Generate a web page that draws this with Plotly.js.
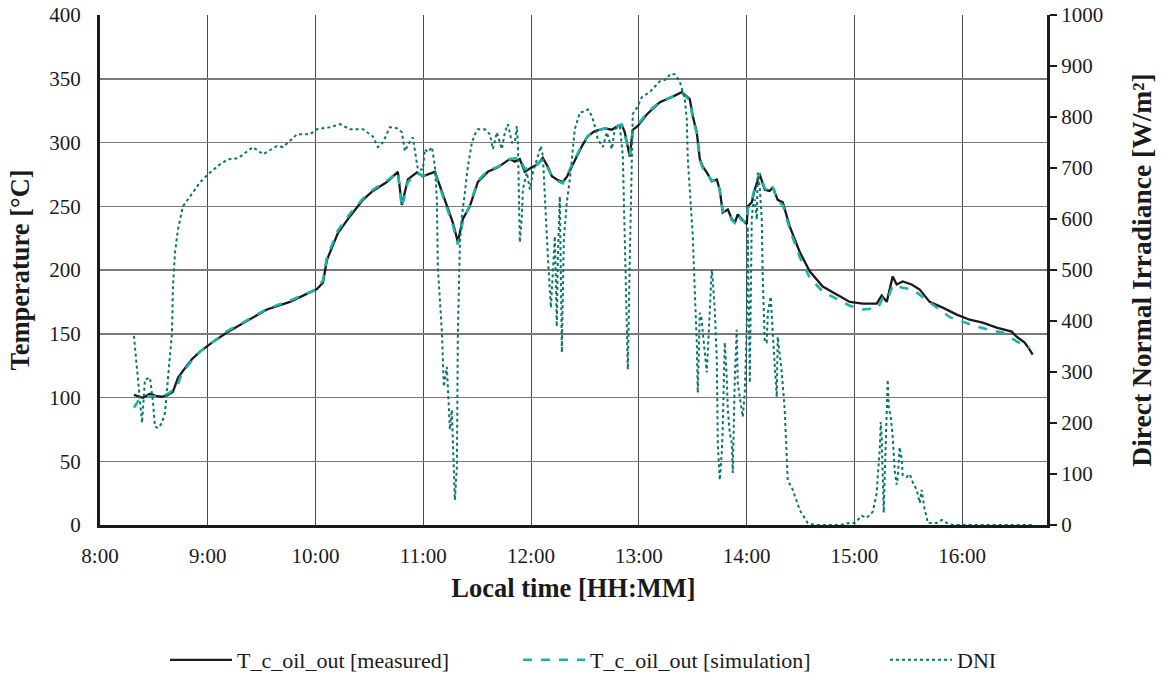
<!DOCTYPE html>
<html>
<head>
<meta charset="utf-8">
<script src="https://cdn.plot.ly/plotly-3.0.1.min.js"></script>
<style>html,body{margin:0;padding:0;background:#fff;}#chart{width:1162px;height:675px;}</style>
</head>
<body>
<div id="chart"></div>
<script>
// Local time in decimal hours
const tMeas = [8.315,8.371,8.399,8.464,8.529,8.575,8.631,8.677,8.724,8.788,8.853,8.928,9.039,9.178,9.299,9.438,9.549,9.763,10.013,10.069,10.106,10.208,10.319,10.440,10.532,10.662,10.764,10.801,10.857,10.941,10.996,11.108,11.154,11.219,11.275,11.321,11.367,11.432,11.506,11.599,11.692,11.803,11.850,11.896,11.942,12.007,12.063,12.109,12.156,12.193,12.239,12.295,12.332,12.378,12.425,12.471,12.527,12.592,12.685,12.750,12.805,12.842,12.870,12.916,12.944,12.991,13.074,13.195,13.315,13.399,13.473,13.501,13.538,13.566,13.594,13.631,13.677,13.724,13.751,13.779,13.826,13.863,13.891,13.918,13.955,14.002,14.011,14.048,14.076,14.122,14.169,14.215,14.243,14.289,14.336,14.401,14.494,14.586,14.707,14.837,14.958,15.078,15.208,15.254,15.301,15.356,15.393,15.449,15.532,15.607,15.699,15.820,15.950,16.071,16.191,16.321,16.460,16.506,16.581,16.627,16.655];
const tempMeasured = [102,100.6,99.8,103,101,100.6,102,104.5,115.5,123,130,136,143,151,157,164,169,175,185,190,208,229,242,255,262,269,277,251,271,276.6,273.5,277,266,250,237,222,240,250,269,277,280.5,287,285,287,277,280.5,283,288,281,273.5,271,269,273,281,289,297,305,309,311,310,313,314,308,289,310,313,322,331.6,336,339.5,334,320.6,308,287,281,276.6,269.5,271,263,245,247.5,240,237,243.6,240,236,250,253,263,275,263,262,265,255,253,234,214,199,187,181,175,173.6,173.6,180,175,195,188.6,191,188.6,184.7,175,170.5,165,161,158.7,154.8,151.7,147.7,143,137.5,133.6];

const tSim = [8.315,8.352,8.436,8.584,8.649,8.714,8.760,8.853,8.928,9.039,9.178,9.299,9.438,9.549,9.763,10.013,10.069,10.106,10.208,10.319,10.440,10.532,10.662,10.764,10.801,10.857,10.941,10.996,11.108,11.154,11.219,11.275,11.321,11.367,11.432,11.506,11.599,11.692,11.803,11.896,11.942,12.007,12.063,12.109,12.156,12.193,12.239,12.295,12.332,12.378,12.425,12.471,12.527,12.592,12.685,12.750,12.842,12.870,12.916,12.944,12.991,13.074,13.195,13.315,13.399,13.473,13.501,13.538,13.566,13.594,13.631,13.677,13.724,13.751,13.779,13.826,13.863,13.891,13.918,13.955,14.002,14.011,14.048,14.076,14.122,14.169,14.215,14.243,14.289,14.336,14.401,14.494,14.586,14.707,14.837,14.958,15.078,15.217,15.264,15.310,15.356,15.449,15.541,15.634,15.764,15.885,16.006,16.136,16.256,16.376,16.506,16.627];
const tempSimulation = [92,97,101,100.6,104,108.5,119,129,136,143,152,157.5,164,169.5,176,185,192,210,231,244,256,263,270,277,249,269,276,274,276,265,249,235,220,238,251,270,278,281,287,288,279,281,283,287,280,274,270,268,274,282,290,298,305,309,311,311,314,306,290,309,314,323,332,336,339,333,319,307,286,280,276,270,271,262,246,246,239,237,243,239,237,248,254,265,276,264,261,265,254,251,232,210,194,183,177,172,169,170,178,177,188,186,184.7,179,171,163,159.5,155.6,153,151,144,139];

const tDni = [8.315,8.390,8.417,8.464,8.492,8.510,8.538,8.575,8.603,8.631,8.668,8.677,8.696,8.724,8.770,8.835,8.928,9.020,9.113,9.187,9.280,9.419,9.512,9.642,9.698,9.827,9.948,10.013,10.134,10.226,10.319,10.440,10.532,10.579,10.625,10.690,10.755,10.801,10.829,10.876,10.903,10.950,10.996,11.015,11.043,11.080,11.108,11.126,11.135,11.173,11.182,11.191,11.219,11.228,11.247,11.265,11.275,11.293,11.312,11.321,11.340,11.358,11.386,11.414,11.451,11.479,11.506,11.571,11.618,11.646,11.683,11.729,11.757,11.785,11.822,11.850,11.868,11.878,11.896,11.915,11.924,11.961,11.989,12.017,12.063,12.091,12.110,12.128,12.156,12.184,12.202,12.221,12.239,12.249,12.267,12.286,12.304,12.332,12.360,12.406,12.453,12.499,12.527,12.564,12.592,12.620,12.666,12.703,12.750,12.777,12.824,12.852,12.870,12.898,12.917,12.935,12.944,12.991,13.028,13.102,13.195,13.260,13.288,13.334,13.380,13.427,13.445,13.455,13.492,13.501,13.520,13.538,13.547,13.566,13.584,13.594,13.631,13.659,13.677,13.686,13.705,13.724,13.733,13.751,13.770,13.779,13.798,13.816,13.826,13.844,13.863,13.872,13.891,13.909,13.918,13.937,13.965,13.983,14.002,14.011,14.030,14.048,14.058,14.076,14.095,14.104,14.122,14.141,14.150,14.169,14.187,14.197,14.224,14.243,14.280,14.289,14.327,14.354,14.382,14.429,14.494,14.568,14.633,14.865,14.957,15.004,15.032,15.069,15.115,15.143,15.171,15.189,15.208,15.217,15.236,15.245,15.254,15.264,15.273,15.282,15.301,15.310,15.319,15.338,15.356,15.375,15.393,15.403,15.421,15.440,15.449,15.486,15.514,15.542,15.579,15.607,15.625,15.635,15.653,15.672,15.681,15.764,15.811,15.857,15.913,16.655];
const dni = [371,200,285,289,240,193,190,200,220,285,377,468,534,580,625,644,672,691,707,717,719,741,727,743,741,766,766,776,780,786,776,776,762,741,750,780,778,770,733,752,760,697,697,737,731,741,703,638,507,377,324,271,310,259,187,226,147,49,114,377,554,605,652,703,750,766,776,776,766,737,770,737,770,786,750,750,782,750,554,605,658,691,658,691,723,743,723,633,527,426,495,566,389,527,644,338,560,633,678,776,809,811,815,802,782,756,741,770,737,776,782,723,560,305,527,756,806,821,839,849,870,874,884,884,870,835,796,717,599,566,456,358,259,416,403,377,299,422,501,481,422,324,161,88,141,193,358,290,226,181,161,102,290,383,279,251,212,259,389,585,279,599,625,638,599,691,664,599,487,358,358,416,448,377,251,369,299,226,88,69,29,4,0,0,4,4,10,18,14,20,26,43,63,94,147,202,173,94,24,94,212,285,232,212,173,108,79,94,153,128,98,94,100,84,69,43,69,55,29,16,4,4,10,4,0,0];

const xTickVals = [8,9,10,11,12,13,14,15,16];
const xTickText = ['8:00','9:00','10:00','11:00','12:00','13:00','14:00','15:00','16:00'];

const FONT = 'Liberation Serif';

const traces = [
  {x: tMeas, y: tempMeasured, name: 'T_c_oil_out [measured]', type: 'scatter', mode: 'lines',
   line: {color: '#1a1a1a', width: 2.3}, legendwidth: 276},
  {x: tSim, y: tempSimulation, name: 'T_c_oil_out [simulation]', type: 'scatter', mode: 'lines',
   line: {color: '#20b2aa', width: 2.6, dash: 'dash'}, legendwidth: 290},
  {x: tDni, y: dni, name: 'DNI', type: 'scatter', mode: 'lines', yaxis: 'y2',
   line: {color: '#0a746d', width: 2, dash: 'dot'}}
];

const layout = {
  width: 1162, height: 675,
  margin: {l: 100, r: 115, t: 15, b: 150, autoexpand: false},
  paper_bgcolor: '#fff', plot_bgcolor: '#fff',
  font: {family: FONT, size: 20, color: '#1a1a1a'},
  showlegend: true,
  legend: {orientation: 'h', x: 165/1162, xref: 'container', xanchor: 'left',
           y: 15/675, yref: 'container', yanchor: 'middle',
           font: {family: FONT, size: 22, color: '#1a1a1a'}, itemwidth: 62, traceorder: 'normal'},
  xaxis: {range: [8, 16.788], tickvals: xTickVals, ticktext: xTickText,
          showgrid: true, gridcolor: '#4d4d4d', gridwidth: 1,
          showline: true, linecolor: '#1a1a1a', linewidth: 3,
          ticks: 'outside', ticklen: 10, tickcolor: 'rgba(0,0,0,0)',
          zeroline: false, tickfont: {family: FONT, size: 21},
          title: {text: '<b>Local time [HH:MM]</b>', font: {family: FONT, size: 26.5}, standoff: 12}},
  yaxis: {range: [0, 400], dtick: 50, showgrid: true, gridcolor: '#7a7a7a', gridwidth: 1.5,
          showline: true, linecolor: '#1a1a1a', linewidth: 3, zeroline: false,
          ticks: 'outside', ticklen: 12, tickcolor: 'rgba(0,0,0,0)',
          tickfont: {family: FONT, size: 21},
          title: {text: '<b>Temperature [°C]</b>', font: {family: FONT, size: 26.5}, standoff: 13}},
  yaxis2: {range: [0, 1000], dtick: 100, overlaying: 'y', side: 'right', showgrid: false,
           showline: true, linecolor: '#1a1a1a', linewidth: 3, zeroline: false,
           ticks: 'outside', ticklen: 7, tickwidth: 2.5, tickcolor: '#1a1a1a',
           tickfont: {family: FONT, size: 21},
           title: {text: '<b>Direct Normal Irradiance [W/m²]</b>', font: {family: FONT, size: 27.5}, standoff: 30}}
};

Plotly.newPlot('chart', traces, layout, {displayModeBar: false, staticPlot: true});
</script>
</body>
</html>
